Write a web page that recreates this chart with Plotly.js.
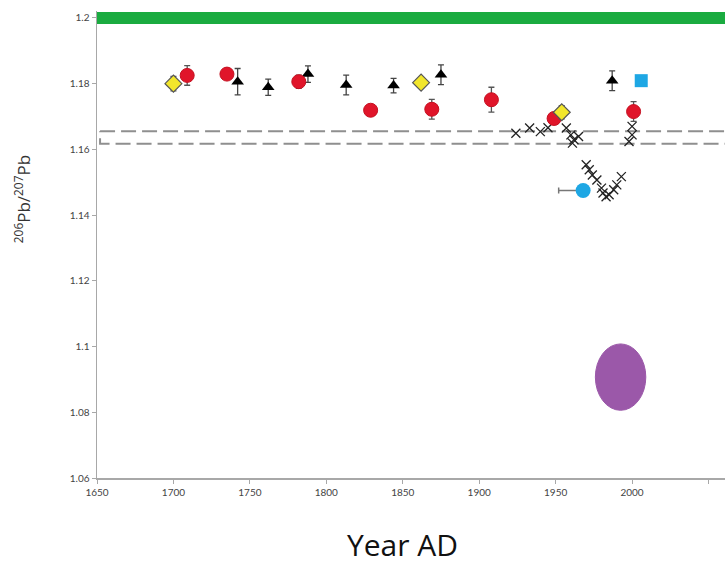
<!DOCTYPE html>
<html>
<head>
<meta charset="utf-8">
<script src="https://cdn.plot.ly/plotly-3.0.1.min.js"></script>
<style>html,body{margin:0;padding:0;background:#fff;}#chart{width:725px;height:568px;}</style>
</head>
<body>
<div id="chart"></div>
<script>
// ---- data ----
const yearTicks = [1650, 1700, 1750, 1800, 1850, 1900, 1950, 2000];
const yearTickText = ['1650', '1700', '1750', '1800', '1850', '1900', '1950', '2000'];
const yearEndTick = [2050];
const ratioTicks = [1.06, 1.08, 1.1, 1.12, 1.14, 1.16, 1.18, 1.2];
const ratioTickText = ['1.06', '1.08', '1.1', '1.12', '1.14', '1.16', '1.18', '1.2'];
const xTitle = 'Year AD';
const yTitle = '<sup>206</sup>Pb/<sup>207</sup>Pb';

// green reference band at 1.2
const greenX = [1650, 2070];
const greenY = [1.2, 1.2];

// dashed reference range
const dashXLeft = 1652, dashXRight = 2070;
const dashYLow = 1.1617, dashYHigh = 1.1655;

// yellow diamonds
const yellowX = [1700, 1862, 1954];
const yellowY = [1.1800, 1.1803, 1.1713];
const yellowErr = [0.0022, 0.0010, 0.0020];

// red circles
const redX = [1709, 1735, 1782, 1829, 1869, 1908, 1949, 2001];
const redY = [1.1825, 1.1829, 1.1806, 1.1719, 1.1722, 1.1751, 1.1694, 1.1715];
const redErr = [0.0030, 0.0010, 0.0020, 0.0005, 0.0030, 0.0038, 0.0005, 0.0030];

// black triangles
const triX = [1742, 1762, 1788, 1813, 1844, 1875, 1987];
const triY = [1.1806, 1.1789, 1.1829, 1.1796, 1.1794, 1.1827, 1.1809];
const triErr = [0.0040, 0.0025, 0.0025, 0.0030, 0.0022, 0.0030, 0.0030];

// crosses
const crossX = [1924, 1933, 1940, 1945, 1957, 1960, 1961, 1962, 1965, 1970, 1972, 1974, 1977, 1980, 1981, 1983, 1985, 1988, 1990, 1993, 1998, 2000, 2000];
const crossY = [1.1649, 1.1665, 1.1654, 1.1666, 1.1665, 1.1644, 1.1619, 1.1629, 1.1639, 1.1553, 1.1538, 1.1522, 1.1507, 1.1482, 1.1467, 1.1456, 1.1462, 1.1477, 1.1492, 1.1517, 1.1624, 1.1644, 1.1670];

// blue square
const blueSqX = [2006];
const blueSqY = [1.1809];

// blue circle with left error
const blueCircX = [1968];
const blueCircY = [1.1475];
const blueCircErrMinus = [16];

// purple ellipse extent
const purpleX = [1976, 2009];
const purpleY = [1.0806, 1.1008];

const traces = [
  {x: greenX, y: greenY, mode: 'lines', line: {color: '#1aab40', width: 12}, hoverinfo: 'skip'},
  {x: [dashXLeft, dashXRight, dashXRight, dashXLeft, dashXLeft],
   y: [dashYHigh, dashYHigh, dashYLow, dashYLow, dashYHigh],
   mode: 'lines', line: {color: '#8f8f8f', width: 2, dash: '15px,6px'}},
  {x: crossX, y: crossY, mode: 'markers',
   marker: {symbol: 'x-thin-open', size: 9, color: '#222', line: {color: '#222', width: 1.3}}},
  {x: triX, y: triY, mode: 'markers',
   error_y: {type: 'data', array: triErr, color: '#444', thickness: 1.3, width: 3},
   marker: {symbol: 'triangle-up', size: 11, color: '#000'}},
  {x: redX, y: redY, mode: 'markers',
   error_y: {type: 'data', array: redErr, color: '#555', thickness: 1.3, width: 3},
   marker: {symbol: 'circle', size: 14, color: '#e0152a', line: {color: '#c51020', width: 1}}},
  {x: yellowX, y: yellowY, mode: 'markers',
   error_y: {type: 'data', array: yellowErr, color: '#555', thickness: 1.3, width: 3},
   marker: {symbol: 'diamond', size: 13, color: '#f2e62c', line: {color: '#555', width: 1.2}}},
  {x: blueSqX, y: blueSqY, mode: 'markers',
   marker: {symbol: 'square', size: 13, color: '#1ea7e4'}},
  {x: blueCircX, y: blueCircY, mode: 'markers',
   error_x: {type: 'data', symmetric: false, array: [0], arrayminus: blueCircErrMinus, color: '#777', thickness: 1.5, width: 3},
   marker: {symbol: 'circle', size: 15, color: '#1ea7e4'}}
];

const layout = {
  width: 725, height: 568,
  margin: {l: 97, r: 0, t: 11, b: 90},
  paper_bgcolor: '#fff', plot_bgcolor: '#fff',
  showlegend: false,
  font: {family: 'Lato, "Open Sans", sans-serif', color: '#444'},
  xaxis: {
    range: [1650, 2060.8], tickvals: yearTicks, ticktext: yearTickText,
    showgrid: false, zeroline: false, showline: true, linecolor: '#a8a8a8', linewidth: 1.5,
    ticks: 'outside', ticklen: 4, tickcolor: '#a8a8a8',
    minor: {tickvals: yearEndTick, ticks: 'outside', ticklen: 4, tickcolor: '#a8a8a8', showgrid: false},
    tickfont: {size: 10, color: '#444'}
  },
  yaxis: {
    range: [1.06, 1.2021], tickvals: ratioTicks, ticktext: ratioTickText,
    showgrid: false, zeroline: false, showline: true, linecolor: '#a8a8a8', linewidth: 1.5,
    ticks: 'outside', ticklen: 4, tickcolor: '#a8a8a8',
    tickfont: {size: 10, color: '#444'}
  },
  annotations: [
    {text: xTitle, xref: 'paper', yref: 'paper', x: 0.4857, y: -0.143, xanchor: 'center', yanchor: 'middle',
     showarrow: false, font: {family: '"Open Sans", sans-serif', size: 30, color: '#111'}},
    {text: yTitle, xref: 'paper', yref: 'paper', x: -0.1194, y: 0.597, xanchor: 'center', yanchor: 'middle',
     textangle: -90, showarrow: false, font: {family: '"Open Sans", sans-serif', size: 17, color: '#333'}}
  ],
  shapes: [
    {type: 'circle', xref: 'x', yref: 'y', x0: purpleX[0], x1: purpleX[1], y0: purpleY[0], y1: purpleY[1],
     fillcolor: '#9b58a9', line: {color: '#9b58a9', width: 1}}
  ]
};

Plotly.newPlot('chart', traces, layout, {displayModeBar: false, staticPlot: true});
</script>
</body>
</html>
